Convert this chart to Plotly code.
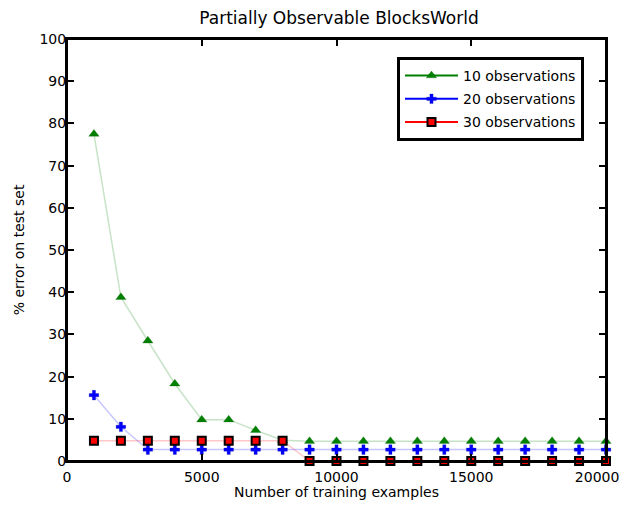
import plotly.graph_objects as go

x_examples = [1000, 2000, 3000, 4000, 5000, 6000, 7000, 8000, 9000, 10000,
              11000, 12000, 13000, 14000, 15000, 16000, 17000, 18000, 19000, 20000]
err_10 = [77.5, 38.8, 28.5, 18.3, 9.8, 9.8, 7.3, 4.9, 4.7, 4.7,
          4.7, 4.7, 4.7, 4.7, 4.7, 4.7, 4.7, 4.7, 4.7, 4.7]
err_20 = [15.6, 8.1, 2.7, 2.7, 2.7, 2.7, 2.7, 2.7, 2.7, 2.7,
          2.7, 2.7, 2.7, 2.7, 2.7, 2.7, 2.7, 2.7, 2.7, 2.7]
err_30 = [4.8, 4.8, 4.8, 4.8, 4.8, 4.8, 4.8, 4.8, 0, 0,
          0, 0, 0, 0, 0, 0, 0, 0, 0, 0]
names = ["10 observations", "20 observations", "30 observations"]
x_ticks = [0, 5000, 10000, 15000, 20000]
x_tick_labels = ["0", "5000", "10000", "15000", "20000"]
y_ticks = [0, 10, 20, 30, 40, 50, 60, 70, 80, 90, 100]

FONT = "DejaVu Sans, Verdana, sans-serif"
NBSP = "\u00a0"

fig = go.Figure()

specs = [
    (err_10, names[0], "green", "rgba(0,128,0,0.22)",
     dict(symbol="triangle-up", size=9, color="green", line=dict(width=0.5, color="rgba(0,90,0,0.5)"))),
    (err_20, names[1], "blue", "rgba(0,0,255,0.22)",
     dict(symbol="cross", size=8, color="blue", line=dict(width=0.5, color="rgba(0,0,160,0.5)"))),
    (err_30, names[2], "red", "rgba(255,0,0,0.22)",
     dict(symbol="square", size=8, color="red", line=dict(width=2, color="black"))),
]

for ys, nm, col, faded, mk in specs:
    fig.add_trace(go.Scatter(x=x_examples, y=ys, mode="lines+markers", name=nm,
                             line=dict(color=faded, width=1.5), marker=mk,
                             showlegend=False, cliponaxis=False))
for ys, nm, col, faded, mk in specs:
    fig.add_trace(go.Scatter(x=[None], y=[None], mode="lines+markers", name=nm,
                             legendgroup=nm,
                             line=dict(color=col, width=2), marker=mk, showlegend=True))

axis_common = dict(showline=True, linecolor="black", linewidth=2, mirror="ticks",
                   ticks="inside", ticklen=7, tickwidth=2, tickcolor="black",
                   showgrid=False, zeroline=False, automargin=False,
                   ticklabeloverflow="allow",
                   tickfont=dict(family=FONT, size=14, color="black"))

# keep the last x tick label inside the visible window
x_tick_text = x_tick_labels[:-1] + [x_tick_labels[-1] + NBSP * 4]

# the page has an 8px body margin; keep the figure inside the window
W, H = 621, 492
fig.update_layout(
    width=W, height=H,
    margin=dict(l=59, r=23, t=31, b=39),
    paper_bgcolor="white", plot_bgcolor="white",
    title=dict(text="Partially Observable BlocksWorld", x=331 / W, xanchor="center",
               y=1 - 10 / H, yanchor="middle",
               font=dict(family=FONT, size=17, color="black")),
    xaxis=dict(range=[0, 20000], tickvals=x_ticks,
               ticktext=x_tick_text, ticklabelstandoff=2,
               title=dict(text="Number of training examples", standoff=4,
                          font=dict(family=FONT, size=14, color="black")),
               **axis_common),
    yaxis=dict(range=[0, 100], tickvals=y_ticks, ticklabelstandoff=-4,
               title=dict(text="% error on test set", standoff=12,
                          font=dict(family=FONT, size=14, color="black")),
               **axis_common),
    legend=dict(x=(397 - 67) / 539, y=(461 - 57) / 422,
                xanchor="left", yanchor="top",
                bordercolor="black", borderwidth=3, bgcolor="white",
                font=dict(family=FONT, size=14, color="black"),
                tracegroupgap=2, itemwidth=53),
    shapes=[dict(type="rect", xref="paper", yref="paper", x0=0, x1=1, y0=0, y1=1,
                 line=dict(color="black", width=2), layer="above")],
)

fig.write_html("out.html")
